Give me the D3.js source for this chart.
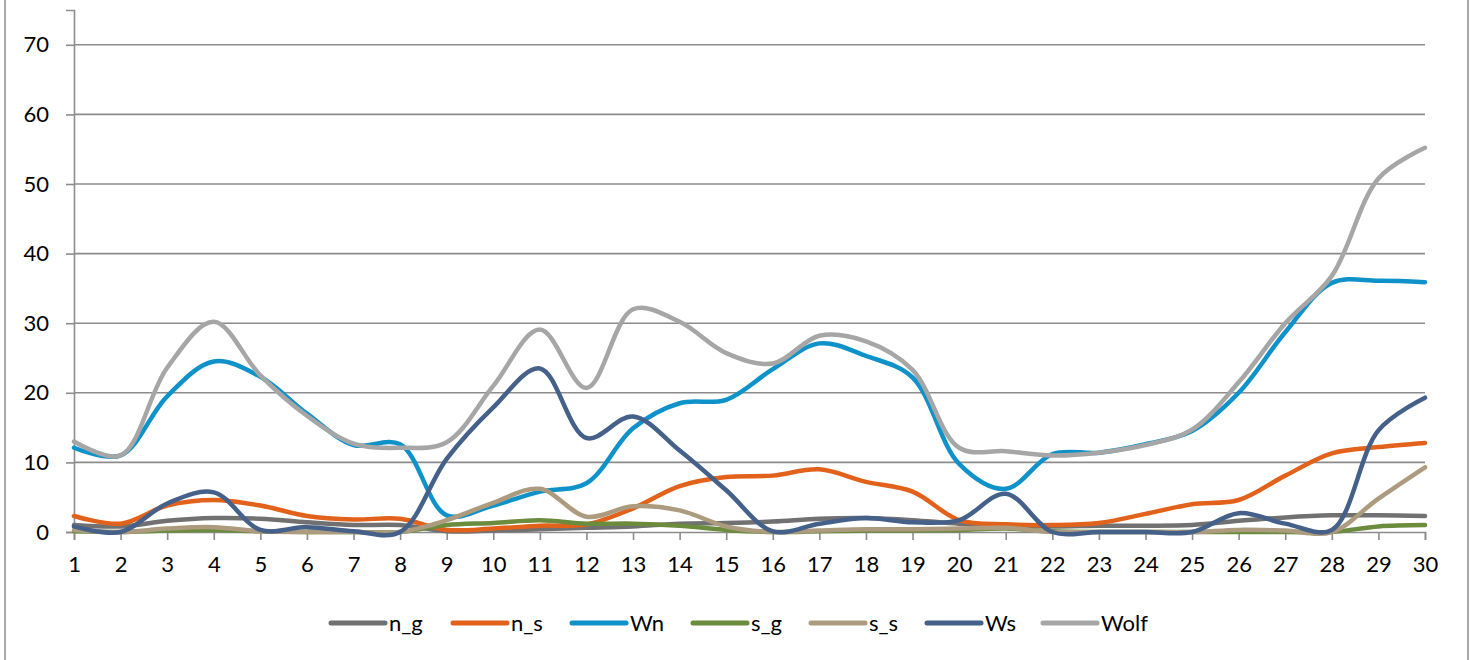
<!DOCTYPE html>
<html lang="en">
<head>
<meta charset="UTF-8">
<title>n_g / n_s / Wn / s_g / s_s / Ws / Wolf</title>
<script src="https://cdn.jsdelivr.net/npm/d3@7"></script>
<style>
  body { margin: 0; background: #fff; }
  svg text { font-family: Lato, "Open Sans", sans-serif; fill: #000; }
</style>
</head>
<body>
<div id="chart"></div>
<script>
// categories and y ticks
const days = d3.range(1, 31)
const yTicks = [0, 10, 20, 30, 40, 50, 60, 70]

// series values
const n_g  = [1.0, 0.8, 1.6, 2.0, 1.9, 1.4, 1.0, 1.0, 0.1, 0.2, 0.4, 0.6, 0.8, 1.2, 1.3, 1.5, 1.9, 2.0, 1.7, 1.2, 1.0, 0.8, 0.9, 0.9, 1.0, 1.6, 2.1, 2.4, 2.4, 2.3]
const n_s  = [2.3, 1.2, 3.8, 4.6, 3.8, 2.3, 1.8, 1.9, 0.3, 0.5, 0.9, 1.1, 3.4, 6.6, 7.9, 8.1, 9.0, 7.2, 5.8, 1.7, 1.1, 1.0, 1.3, 2.6, 4.0, 4.6, 8.1, 11.3, 12.2, 12.8]
const Wn   = [12.1, 11.0, 19.5, 24.5, 22.3, 17.0, 12.5, 12.6, 2.4, 3.8, 5.8, 7.0, 14.9, 18.5, 19.0, 23.4, 27.1, 25.3, 22.2, 9.8, 6.2, 11.2, 11.4, 12.6, 14.5, 20.0, 28.7, 35.8, 36.1, 35.9]
const s_g  = [0.1, 0.0, 0.2, 0.3, 0.1, 0.0, 0.0, 0.0, 1.0, 1.3, 1.7, 1.2, 1.2, 0.9, 0.3, 0.0, 0.1, 0.2, 0.2, 0.3, 0.5, 0.1, 0.0, 0.0, 0.0, 0.0, 0.0, 0.0, 0.8, 1.0]
const s_s  = [0.3, 0.0, 0.5, 0.7, 0.1, 0.0, 0.0, 0.0, 1.7, 4.2, 6.2, 2.2, 3.7, 3.1, 0.8, 0.0, 0.2, 0.4, 0.4, 0.5, 0.6, 0.0, 0.0, 0.0, 0.0, 0.3, 0.2, 0.0, 4.8, 9.3]
const Ws   = [0.8, 0.0, 4.1, 5.7, 0.3, 0.7, 0.1, 0.0, 10.5, 17.9, 23.5, 13.5, 16.6, 11.7, 6.0, 0.1, 1.2, 2.0, 1.4, 1.7, 5.5, 0.0, 0.0, 0.0, 0.0, 2.7, 1.2, 0.3, 14.6, 19.3]
const Wolf = [13.0, 11.0, 23.6, 30.2, 22.5, 16.7, 12.7, 12.1, 12.9, 21.0, 29.1, 20.7, 32.0, 30.2, 25.7, 24.2, 28.2, 27.4, 23.3, 12.1, 11.6, 11.0, 11.4, 12.5, 14.7, 21.5, 30.0, 36.8, 50.8, 55.2]

const seriesNames = ["n_g", "n_s", "Wn", "s_g", "s_s", "Ws", "Wolf"]
const seriesValues = [n_g, n_s, Wn, s_g, s_s, Ws, Wolf]
const colors = ["#717171", "#e2611b", "#0f92c9", "#6b8b3d", "#ac9b7e", "#45618a", "#a6a6a6"]

const W = 1471, H = 660
const plot = {left: 74, right: 1425, top: 10, bottom: 532}

const svg = d3.select("#chart").append("svg")
    .attr("width", W)
    .attr("height", H)

// outer chart border
svg.append("rect")
    .attr("x", 5).attr("y", -4)
    .attr("width", 1463).attr("height", H + 8)
    .attr("fill", "none")
    .attr("stroke", "#8c8c8c")
    .attr("stroke-width", 1.5)

const x = d3.scaleLinear()
    .domain([1, 30])
    .range([plot.left, plot.right])

const y = d3.scaleLinear()
    .domain([0, 75])
    .range([plot.bottom, plot.top])

// horizontal gridlines
svg.append("g")
    .selectAll("line")
    .data(yTicks.filter(d => d > 0))
    .join("line")
      .attr("x1", plot.left).attr("x2", plot.right)
      .attr("y1", d => y(d)).attr("y2", d => y(d))
      .attr("stroke", "#8c8c8c")
      .attr("stroke-width", 1.6)

// y axis
const yAxis = svg.append("g")
    .attr("transform", `translate(${plot.left},0)`)
    .call(d3.axisLeft(y).tickValues(yTicks).tickSize(8).tickPadding(17))
yAxis.select(".domain").attr("stroke", "#8c8c8c").attr("stroke-width", 1.6)
yAxis.selectAll(".tick line").attr("stroke", "#8c8c8c").attr("stroke-width", 1.6)
yAxis.selectAll("text").attr("font-size", 22).attr("font-family", "Lato")

// x axis
const xAxis = svg.append("g")
    .attr("transform", `translate(0,${plot.bottom})`)
    .call(d3.axisBottom(x).tickValues(days).tickFormat(d3.format("d")).tickSize(8).tickPadding(16))
xAxis.select(".domain").attr("stroke", "#8c8c8c").attr("stroke-width", 1.6)
xAxis.selectAll(".tick line").attr("stroke", "#8c8c8c").attr("stroke-width", 1.6)
xAxis.selectAll("text").attr("font-size", 22).attr("font-family", "Lato")

// smoothed lines (centripetal Catmull-Rom keeps the flat parts from dipping below 0)
const line = d3.line()
    .x((d, i) => x(days[i]))
    .y(d => y(d))
    .curve(d3.curveCatmullRom.alpha(0.5))

svg.append("g")
    .selectAll("path")
    .data(seriesValues)
    .join("path")
      .attr("d", d => line(d))
      .attr("fill", "none")
      .attr("stroke", (d, i) => colors[i])
      .attr("stroke-width", 4.5)
      .attr("stroke-linecap", "round")
      .attr("stroke-linejoin", "round")

// legend
const legendX = [329, 451, 570, 691, 809, 925, 1041]
const legend = svg.append("g")
    .selectAll("g")
    .data(seriesNames)
    .join("g")
      .attr("transform", (d, i) => `translate(${legendX[i]},623)`)
legend.append("line")
    .attr("x1", 2).attr("x2", 56)
    .attr("stroke", (d, i) => colors[i])
    .attr("stroke-width", 5)
    .attr("stroke-linecap", "round")
legend.append("text")
    .attr("x", 60)
    .attr("dy", "0.35em")
    .attr("font-size", 22)
    .text(d => d)
</script>
</body>
</html>
